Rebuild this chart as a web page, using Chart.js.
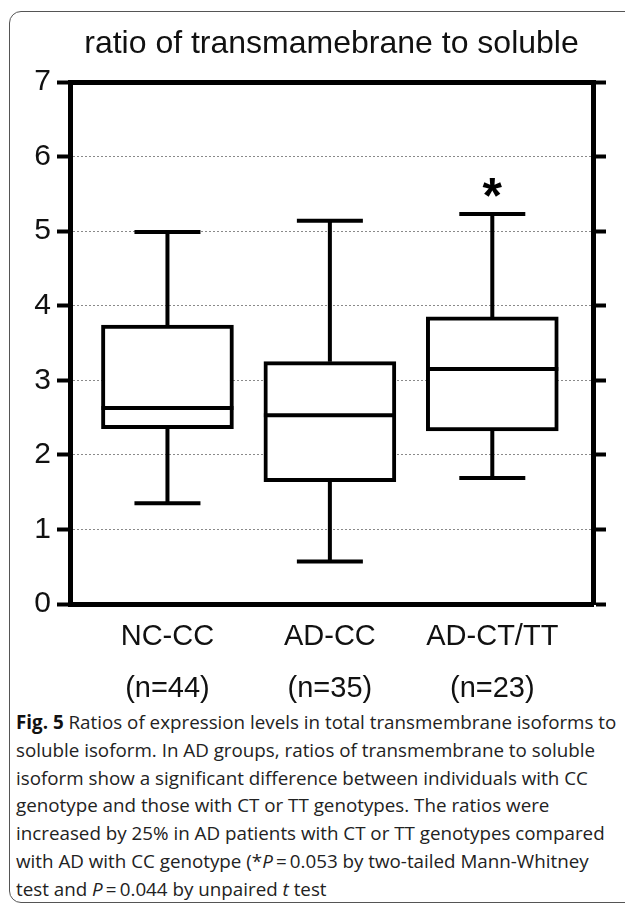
<!DOCTYPE html>
<html>
<head>
<meta charset="utf-8">
<script src="https://cdn.jsdelivr.net/npm/chart.js@4.4.0/dist/chart.umd.min.js"></script>
<style>
  html, body { margin: 0; padding: 0; background: #fff; }
  body { width: 625px; height: 906px; position: relative; overflow: hidden; }
  #frame {
    position: absolute; left: 9px; top: 11px; width: 700px; height: 892px;
    border: 1.5px solid #555; border-radius: 12px; box-sizing: border-box;
  }
  #chartWrap { position: absolute; left: 0; top: 0; width: 625px; height: 706px; }
  #caption {
    position: absolute; left: 16px; top: 709px;
    font-family: 'Open Sans', sans-serif; font-size: 18.8px; line-height: 27.8px;
    color: #222; white-space: nowrap;
  }
  #caption b { color: #111; }
</style>
</head>
<body>
<div id="frame"></div>
<div id="chartWrap"><canvas id="boxChart" width="625" height="706"></canvas></div>
<div id="caption">
<b>Fig. 5</b> Ratios of expression levels in total transmembrane isoforms to<br>
soluble isoform. In AD groups, ratios of transmembrane to soluble<br>
isoform show a significant difference between individuals with CC<br>
genotype and those with CT or TT genotypes. The ratios were<br>
increased by 25% in AD patients with CT or TT genotypes compared<br>
with AD with CC genotype (*<i>P</i>&thinsp;=&thinsp;0.053 by two-tailed Mann-Whitney<br>
test and <i>P</i>&thinsp;=&thinsp;0.044 by unpaired <i>t</i> test
</div>
<script>
// Groups and box plot values
const groups = ['NC-CC', 'AD-CC', 'AD-CT/TT'];
const groupSizes = ['(n=44)', '(n=35)', '(n=23)'];
const whiskerLow = [1.35, 0.57, 1.69];
const quartile1 = [2.35, 1.64, 2.32];
const medians = [2.63, 2.53, 3.15];
const quartile3 = [3.74, 3.25, 3.85];
const whiskerHigh = [4.99, 5.14, 5.23];
const marks = ['', '', '*'];

Chart.defaults.font.family = '"Liberation Sans", Arial, sans-serif';

// Whiskers, medians and significance mark, drawn from the bar geometry
const boxPlotExtras = {
    id: 'boxPlotExtras',
    beforeDatasetsDraw(chart) {
        const ctx = chart.ctx;
        const y = chart.scales.y;
        const meta = chart.getDatasetMeta(0);
        ctx.save();
        ctx.strokeStyle = '#000';
        ctx.lineWidth = 4;
        meta.data.forEach((bar, i) => {
            const cx = bar.x;
            const capHalf = bar.width / 4;
            const yHi = y.getPixelForValue(whiskerHigh[i]);
            const yLo = y.getPixelForValue(whiskerLow[i]);
            const yQ3 = y.getPixelForValue(quartile3[i]);
            const yQ1 = y.getPixelForValue(quartile1[i]);
            ctx.beginPath();
            ctx.moveTo(cx, yQ3); ctx.lineTo(cx, yHi);
            ctx.moveTo(cx - capHalf, yHi); ctx.lineTo(cx + capHalf, yHi);
            ctx.moveTo(cx, yQ1); ctx.lineTo(cx, yLo);
            ctx.moveTo(cx - capHalf, yLo); ctx.lineTo(cx + capHalf, yLo);
            ctx.stroke();
        });
        ctx.restore();
    },
    afterDatasetsDraw(chart) {
        const ctx = chart.ctx;
        const y = chart.scales.y;
        const meta = chart.getDatasetMeta(0);
        ctx.save();
        ctx.strokeStyle = '#000';
        ctx.lineWidth = 4;
        meta.data.forEach((bar, i) => {
            const half = bar.width / 2;
            const yMed = y.getPixelForValue(medians[i]);
            ctx.beginPath();
            ctx.moveTo(bar.x - half, yMed);
            ctx.lineTo(bar.x + half, yMed);
            ctx.stroke();

            if (marks[i]) {
                ctx.font = 'bold 50px "Liberation Sans", Arial, sans-serif';
                ctx.fillStyle = '#000';
                ctx.textAlign = 'center';
                ctx.textBaseline = 'alphabetic';
                const m = ctx.measureText(marks[i]);
                const cy = y.getPixelForValue(whiskerHigh[i]) - 26;
                const base = cy + (m.actualBoundingBoxAscent - m.actualBoundingBoxDescent) / 2;
                ctx.fillText(marks[i], bar.x, base);
            }
        });
        ctx.restore();
    }
};

const ctx = document.getElementById('boxChart').getContext('2d');
const boxChart = new Chart(ctx, {
    type: 'bar',
    data: {
        datasets: [{
            data: groups.map((g, i) => ({ x: i + 1, y: [quartile1[i], quartile3[i]] })),
            backgroundColor: '#fff',
            borderColor: '#000',
            borderWidth: 4,
            borderSkipped: false,
            barThickness: 132
        }]
    },
    options: {
        responsive: false,
        animation: false,
        layout: { padding: 0 },
        plugins: {
            legend: { display: false },
            tooltip: { enabled: false },
            title: {
                display: true,
                text: 'ratio of transmamebrane to soluble',
                fullSize: false,
                color: '#111',
                font: { size: 32, weight: 'normal', lineHeight: 1.2 },
                padding: { top: 25, bottom: 0 }
            }
        },
        scales: {
            x: {
                type: 'linear',
                position: 'bottom',
                offset: false,
                min: 0.4,
                max: 3.62,
                afterBuildTicks: (s) => { s.ticks = groups.map((g, i) => ({ value: i + 1 })); },
                afterFit: (s) => { s.height = 102; },
                ticks: {
                    autoSkip: false,
                    maxRotation: 0,
                    color: '#111',
                    padding: 7,
                    font: { size: 29, lineHeight: 1.8 },
                    callback: (v, i) => [groups[i], groupSizes[i]]
                },
                grid: { offset: false, drawOnChartArea: false, drawTicks: false },
                border: { color: '#000', width: 5 }
            },
            x2: {
                type: 'linear',
                position: 'top',
                offset: false,
                min: 0,
                max: 1,
                afterFit: (s) => { s.height = 18.6; },
                ticks: { display: false },
                grid: { drawOnChartArea: false, drawTicks: false },
                border: { color: '#000', width: 5 }
            },
            y: {
                position: 'left',
                min: 0,
                max: 7,
                afterFit: (s) => { s.width = 70; },
                ticks: {
                    stepSize: 1,
                    color: '#111',
                    padding: 6,
                    font: { size: 30 }
                },
                grid: {
                    color: (c) => (c.tick.value > 0 && c.tick.value < 7) ? '#8a8a8a' : 'rgba(0,0,0,0)',
                    lineWidth: 1,
                    tickColor: '#000',
                    tickWidth: 4,
                    tickLength: 13
                },
                border: { color: '#000', width: 5, dash: [2, 2] }
            },
            y2: {
                position: 'right',
                min: 0,
                max: 7,
                afterFit: (s) => { s.width = 32; },
                ticks: { stepSize: 1, display: false },
                grid: {
                    drawOnChartArea: false,
                    tickColor: '#000',
                    tickWidth: 4,
                    tickLength: 13
                },
                border: { color: '#000', width: 5 }
            }
        }
    },
    plugins: [boxPlotExtras]
});
</script>
</body>
</html>
